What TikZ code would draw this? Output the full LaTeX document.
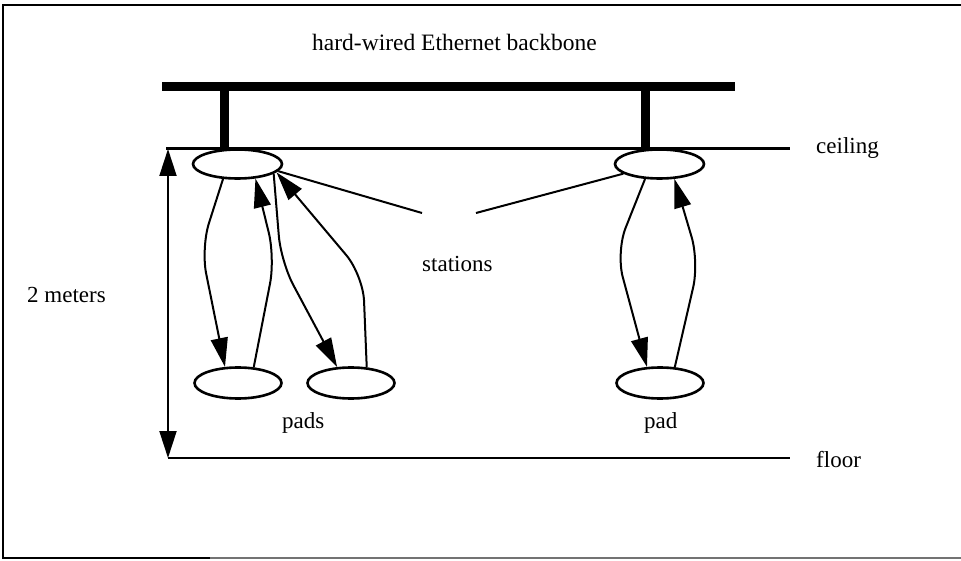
\documentclass[tikz,border=0pt]{standalone}
\usepackage{fontspec}
\setmainfont{Liberation Serif}
\usetikzlibrary{arrows.meta,shapes.geometric}
\tikzset{
  station/.style={draw, ellipse, line width=2.6pt, minimum width=89pt, minimum height=29pt, inner sep=0pt},
  padnode/.style={draw, ellipse, line width=2.6pt, minimum width=87pt, minimum height=31pt, inner sep=0pt},
  link/.style={line width=2pt, rounded corners=26pt, -{Triangle[length=29pt,width=17pt]}},
  pointer/.style={line width=2pt},
  lbl/.style={anchor=base west, inner sep=0pt, font=\fontsize{23}{27}\selectfont},
  heavy/.style={line width=9pt},
  level/.style={line width=2.8pt}
}
\begin{document}
\begin{tikzpicture}[x=1pt,y=-1pt]
\useasboundingbox (0,0) rectangle (961,561);
% frame
\draw[line width=2.5pt] (3,559) -- (3,5) -- (961,5);
\draw[line width=2pt] (3,558) -- (210,558);
\draw[line width=2pt, black!55] (210,558) -- (961,558);

% title
\node[anchor=base west, inner sep=0pt, font=\fontsize{23.5}{28}\selectfont] (title) at (312,51) {hard-wired Ethernet backbone};

% backbone
\coordinate (bbL) at (162,86.5);
\coordinate (bbR) at (735,86.5);
\coordinate (d1) at (224,86.5);
\coordinate (d2) at (645,86.5);
\draw[heavy] (bbL) -- (bbR);

% ceiling and floor
\coordinate (ceilL) at (166,148.5);
\coordinate (ceilR) at (790,148.5);
\coordinate (floorL) at (168,458);
\coordinate (floorR) at (790,458);
\draw[level] (ceilL) -- (ceilR);
\draw[level] (floorL) -- (floorR);

% stations
\node[station] (s1) at (237.5,164) {};
\node[station] (s2) at (659.5,164) {};
\draw[heavy] (d1) -- (d1 |- s1.north);
\draw[heavy] (d2) -- (d2 |- s2.north);

% pads
\node[padnode] (p1) at (238,383) {};
\node[padnode] (p2) at (351,383) {};
\node[padnode] (p3) at (660,383) {};

% height arrow
\coordinate (hT) at (168,149);
\coordinate (hB) at (168,458);
\draw[line width=2pt, {Triangle[length=27pt,width=17pt]}-{Triangle[length=27pt,width=17pt]}] (hT) -- (hB);

% links
\draw[link] (s1.-134) -- (201,248) -- (p1.129);
\draw[link] (p1.45) -- (275,258) -- (s1.-39);
\draw[link] (s1.-15) -- (281,262) -- (p2.131);
\draw[link] (p2.45) -- (363,275) -- (s1.-12);
\draw[link] (s2.-134) -- (616,252) -- (p3.129);
\draw[link] (p3.47) -- (699,262) -- (s2.-45);

% station pointers
\coordinate (stL) at (422,213);
\coordinate (stR) at (476,213);
\draw[pointer] (stL) -- (s1.-10);
\draw[pointer] (stR) -- (s2.-165);

% labels
\node[lbl] (stations) at (422,272) {stations};
\node[lbl] (pads) at (282,428) {pads};
\node[lbl] (pad) at (644,428) {pad};
\node[lbl] (ceiling) at (816,154) {ceiling};
\node[lbl] (floor) at (816,467) {floor};
\node[lbl] (meters) at (27,303) {2 meters};
\end{tikzpicture}
\end{document}
